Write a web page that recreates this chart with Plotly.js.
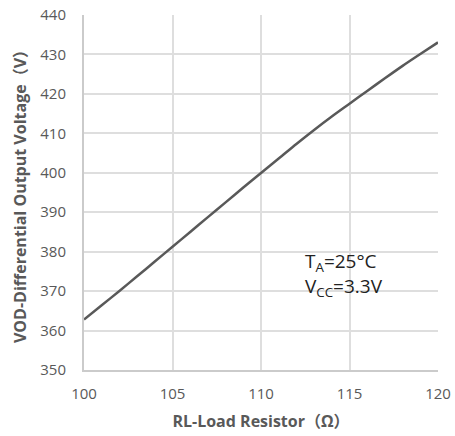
<!DOCTYPE html>
<html>
<head>
<meta charset="utf-8">
<script src="https://cdn.plot.ly/plotly-3.0.1.min.js"></script>
<style>html,body{margin:0;padding:0;background:#fff;}#chart{width:455px;height:436px;}</style>
</head>
<body>
<div id="chart"></div>
<script>
const resistance = [100,101,102,103,104,105,106,107,108,109,110,111,112,113,114,115,116,117,118,119,120];
const vod = [362.8,366.4,370.05,373.75,377.5,381.25,385.0,388.75,392.5,396.25,399.95,403.6,407.3,410.85,414.25,417.5,420.75,423.95,427.1,430.1,433.05];
const xTitle = "RL-Load Resistor（Ω）";
const yTitle = "VOD-Differential Output Voltage（V）";
const noteText = "T<sub>A</sub>=25°C<br>V<sub>CC</sub>=3.3V";

const fontFam = "'Open Sans', 'Noto Sans CJK SC', sans-serif";
const trace = {
  x: resistance, y: vod, type: 'scatter', mode: 'lines',
  line: {color: '#595959', width: 2.5, shape: 'spline', smoothing: 0.8}, hoverinfo: 'skip'
};
const layout = {
  width: 455, height: 436,
  margin: {l: 84, r: 17, t: 15, b: 66},
  paper_bgcolor: '#fff', plot_bgcolor: '#fff',
  showlegend: false,
  font: {family: fontFam, color: '#595959', size: 15},
  xaxis: {
    range: [100, 120], dtick: 5, tick0: 100,
    showgrid: true, gridcolor: '#dedede', gridwidth: 2,
    showline: true, linecolor: '#cbcbcb', linewidth: 2, mirror: false,
    zeroline: false, ticks: 'outside', ticklen: 9, tickcolor: 'rgba(0,0,0,0)',
    tickfont: {size: 15, color: '#595959'},
    automargin: false,
    title: {text: xTitle, font: {size: 16, color: '#595959', family: fontFam, weight: 'bold'}, standoff: 14}
  },
  yaxis: {
    range: [350, 440], dtick: 10, tick0: 350,
    showgrid: true, gridcolor: '#dedede', gridwidth: 2,
    showline: true, linecolor: '#cbcbcb', linewidth: 2,
    zeroline: false, ticks: 'outside', ticklen: 13, tickcolor: 'rgba(0,0,0,0)',
    tickfont: {size: 15, color: '#595959'},
    automargin: false,
    title: {text: yTitle, font: {size: 16, color: '#595959', family: fontFam, weight: 'bold'}, standoff: 10}
  },
  annotations: [{
    xref: 'paper', yref: 'paper', x: 0.62, y: 0.27,
    xanchor: 'left', yanchor: 'middle', align: 'left', showarrow: false,
    text: noteText, font: {size: 19, color: '#222222', family: fontFam}
  }]
};
Plotly.newPlot('chart', [trace], layout, {displayModeBar: false});
</script>
</body>
</html>
